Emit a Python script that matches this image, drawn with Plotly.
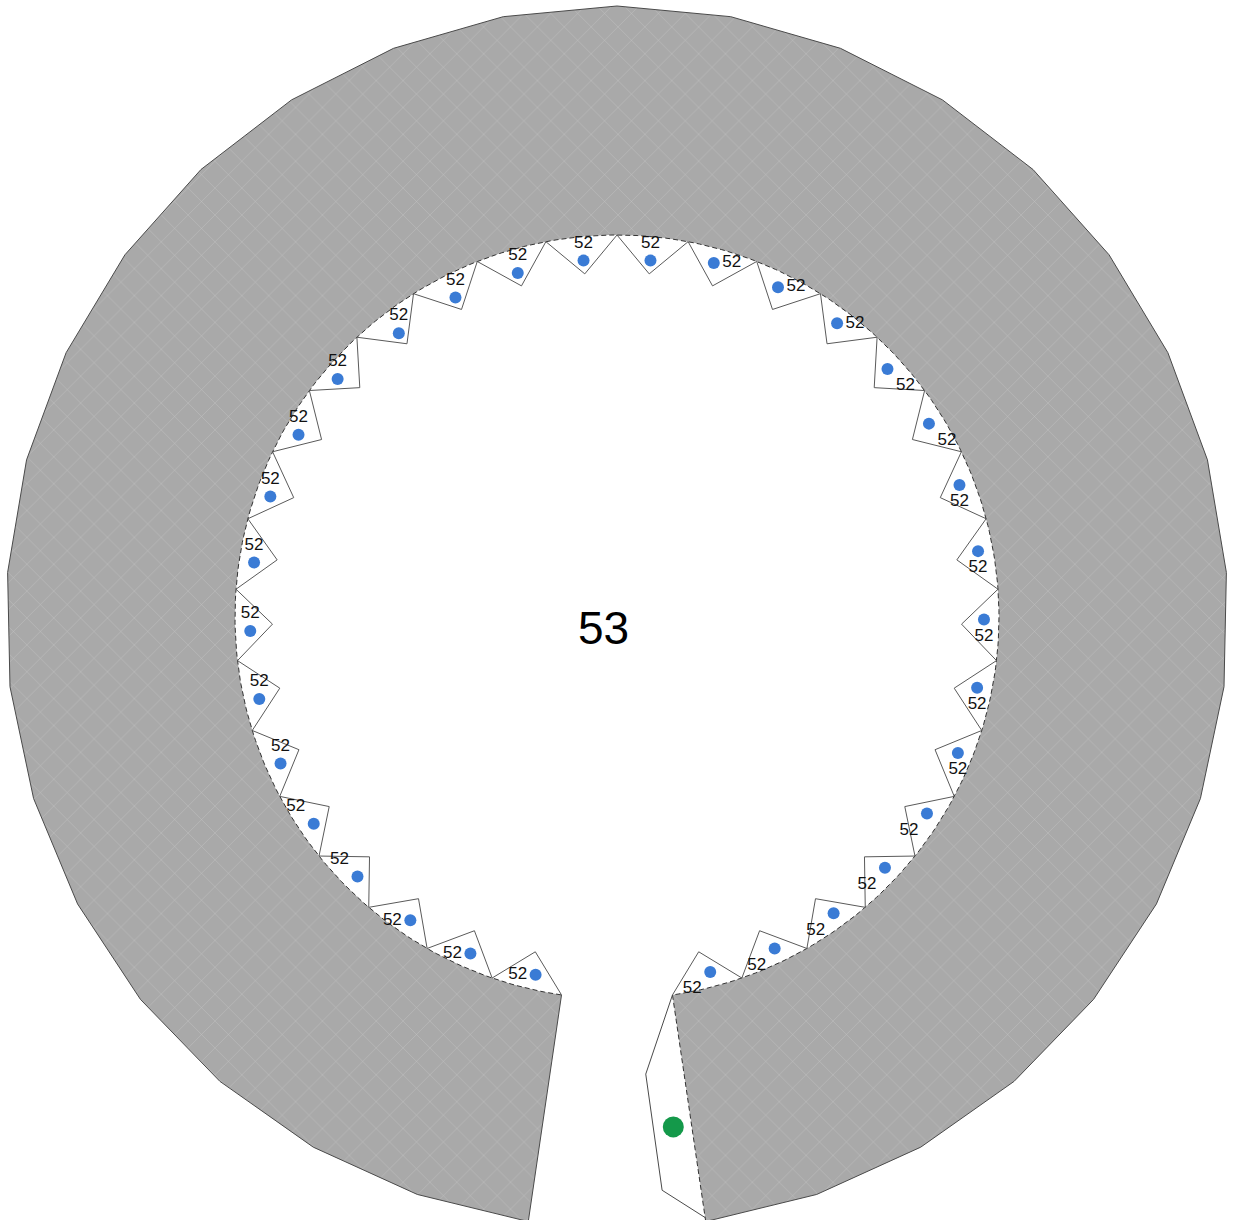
"""Ring diagram with inner teeth – Plotly recreation."""

import numpy as np
import plotly.graph_objects as go

# values shown in the picture
center_value = 53
tooth_values = [52, 52, 52, 52, 52, 52, 52, 52, 52, 52, 52, 52, 52, 52, 52, 52,
                52, 52, 52, 52, 52, 52, 52, 52, 52, 52, 52, 52, 52, 52, 52, 52]
# where each blue dot sits inside its tooth: radius and angular shift (deg)
dot_radius = [367, 367, 367, 367, 367, 367, 367, 367, 367, 367, 367, 367, 358, 358, 358, 358,
              358, 367, 367, 367, 367, 367, 367, 367, 367, 367, 367, 367, 367, 367, 367, 367]
dot_shift = [0.9, 0.9, 0.9, 0.9, 0.9, 0.9, 1.0, 1.0, 1.0, 1.1, 1.2, 1.3, 0.0, 0.0, 0.0, 0.0,
             0.0, 0.8, 0.8, 0.7, 0.8, 0.8, 0.8, 0.8, 0.8, 0.8, 0.9, 1.0, 1.0, 1.0, 1.0, 1.0]
label_pos = ["middle left", "middle left", "middle left", "top left", "top left", "top center",
             "top center", "top center", "top center", "top center", "top center", "top center",
             "top center", "top center", "top center", "top center", "top center", "middle right",
             "middle right", "middle right", "bottom right", "bottom right", "bottom center",
             "bottom center", "bottom center", "bottom center", "bottom center", "bottom left",
             "bottom left", "bottom left", "bottom left", "bottom left"]

# ring geometry
R_OUT = 611
R_IN = 382
GAP_HALF = 8.35  # degrees either side of straight down
# key piece sitting in the gap: (radius, angle in degrees)
KEY_OUTLINE = [(382, -81.65), (458, -86.4), (575, -85.5), (607, -81.65)]
KEY_DOT = (513, -83.7)
CENTER_LABEL_AT = (-14, -11)

GREY_LINE = "#4a4a4a"
FONT = "Arial, Liberation Sans, sans-serif"


def pol(r, deg):
    a = np.radians(deg)
    return r * np.cos(a), r * np.sin(a)


n = len(tooth_values)
a_start = 270 - GAP_HALF
step = (360 - 2 * GAP_HALF) / n
v_ang = [a_start - k * step for k in range(n + 1)]
a_end = v_ang[-1]

# ring body: outer polygon then smooth inner arc back
ox, oy = zip(*[pol(R_OUT, a) for a in v_ang])
arc = np.linspace(a_end, a_start, 400)
ix, iy = pol(R_IN, arc)
ring_x = list(ox) + list(ix) + [ox[0]]
ring_y = list(oy) + list(iy) + [oy[0]]

fig = go.Figure()

fig.add_trace(go.Scatter(
    x=ring_x, y=ring_y, mode="lines", fill="toself",
    fillcolor="#a9a9a9", line=dict(width=0),
    fillpattern=dict(shape="x", fgcolor="#ffffff", fgopacity=0.3, size=19, solidity=0.05,
                     fillmode="overlay"),
    hoverinfo="skip",
))

# outer edge + left gap edge (solid)
lx0, ly0 = pol(R_IN, a_start)
fig.add_trace(go.Scatter(
    x=[lx0] + list(ox), y=[ly0] + list(oy), mode="lines",
    line=dict(color=GREY_LINE, width=1), hoverinfo="skip",
))

# inner arc + right gap edge (dashed)
rx_in, ry_in = pol(R_IN, a_end)
rx_out, ry_out = pol(R_OUT, a_end)
fig.add_trace(go.Scatter(
    x=[rx_out, rx_in] + list(ix), y=[ry_out, ry_in] + list(iy), mode="lines",
    line=dict(color="#333333", width=1, dash="5px,3px"), hoverinfo="skip",
))

# teeth: right-angled triangles pointing inward
tx, ty = [], []
half = np.radians(step / 2)
for k in range(n):
    x1, y1 = pol(R_IN, v_ang[k])
    x2, y2 = pol(R_IN, v_ang[k + 1])
    ax, ay = pol(R_IN * (np.cos(half) - np.sin(half)), (v_ang[k] + v_ang[k + 1]) / 2)
    tx += [x1, ax, x2, None]
    ty += [y1, ay, y2, None]
fig.add_trace(go.Scatter(
    x=tx, y=ty, mode="lines", line=dict(color="#5a5a5a", width=1), hoverinfo="skip",
))

# key piece in the gap
kx, ky = zip(*[pol(r, a) for r, a in KEY_OUTLINE])
fig.add_trace(go.Scatter(
    x=kx, y=ky, mode="lines", line=dict(color=GREY_LINE, width=1), hoverinfo="skip",
))
gx, gy = pol(*KEY_DOT)
fig.add_trace(go.Scatter(
    x=[gx], y=[gy], mode="markers",
    marker=dict(size=21, color="#14994a"), hoverinfo="skip",
))

# blue dots with their labels
dot_ang = [(v_ang[k] + v_ang[k + 1]) / 2 + dot_shift[k] for k in range(n)]
dx, dy = pol(np.array(dot_radius), np.array(dot_ang))
fig.add_trace(go.Scatter(
    x=dx, y=dy, mode="markers+text",
    marker=dict(size=12, color="#3a7bd5"),
    text=[str(v) for v in tooth_values], textposition=label_pos,
    textfont=dict(family=FONT, size=17, color="#111111"),
    hoverinfo="skip",
))

fig.add_annotation(
    x=CENTER_LABEL_AT[0], y=CENTER_LABEL_AT[1], text=str(center_value), showarrow=False,
    font=dict(family=FONT, size=46, color="#000000"),
)

fig.update_layout(
    width=1238, height=1220, autosize=False,
    margin=dict(l=0, r=0, t=0, b=0),
    paper_bgcolor="white", plot_bgcolor="white",
    showlegend=False,
    xaxis=dict(range=[-617, 621], visible=False, fixedrange=True),
    yaxis=dict(range=[-603, 617], visible=False, fixedrange=True),
)

fig.write_html("out.html", config={"displayModeBar": False},
               post_script="document.body.style.margin='0';")
